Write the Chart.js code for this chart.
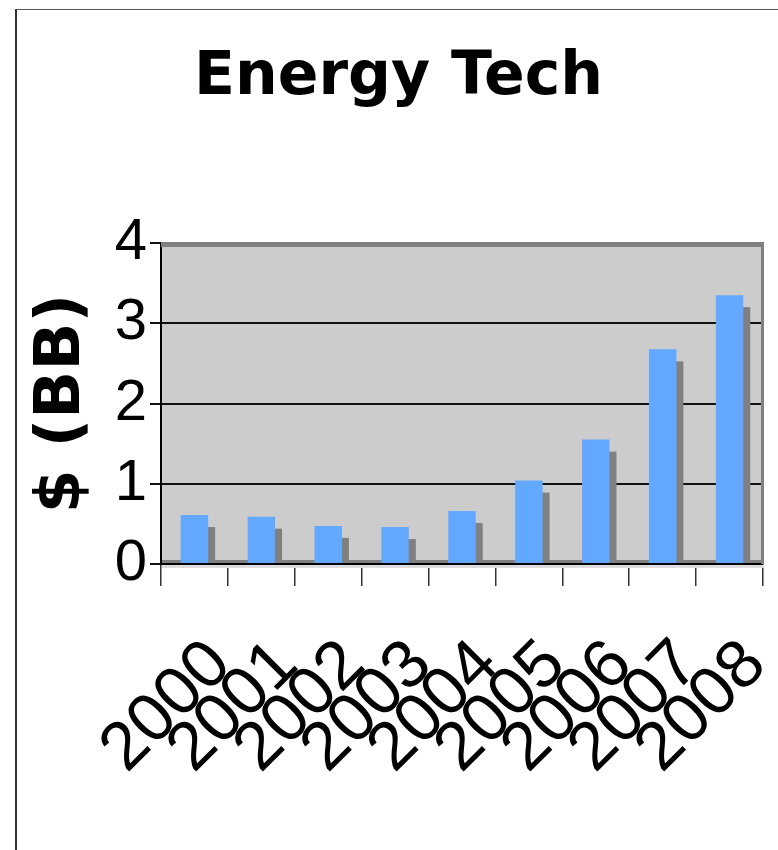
<!DOCTYPE html>
<html>
<head>
<meta charset="utf-8">
<title>Energy Tech</title>
<script src="https://cdn.jsdelivr.net/npm/chart.js@4"></script>
<style>
    html, body { margin: 0; padding: 0; background: #fff; overflow: hidden; }
    #frame {
        position: absolute; left: 15px; top: 9px; width: 900px; height: 900px;
        border-left: 2px solid #333; border-top: 1px solid #555;
    }
    #wrap { position: absolute; left: 0; top: 0; width: 778px; height: 850px; }
</style>
</head>
<body>
<div id="frame"></div>
<div id="wrap"><canvas id="energyChart" width="778" height="850"></canvas></div>
<script>
const years = ['2000', '2001', '2002', '2003', '2004', '2005', '2006', '2007', '2008'];
const investment = [0.61, 0.59, 0.475, 0.46, 0.66, 1.04, 1.55, 2.675, 3.35];
const yMin = 0;
const yMax = 4;
const chartTitle = 'Energy Tech';
const yTitle = '$ (BB)';

// grey back wall plus the 3d-ish walls excel draws around it
const wallPlugin = {
    id: 'wall',
    beforeDraw(chart) {
        const { ctx, chartArea: a } = chart;
        ctx.save();
        ctx.fillStyle = '#cccccc';
        ctx.fillRect(a.left, a.top, a.right - a.left, a.bottom - a.top);
        ctx.restore();
    },
    beforeDatasetsDraw(chart) {
        const { ctx, chartArea: a } = chart;
        ctx.save();
        ctx.fillStyle = '#808080';
        ctx.fillRect(a.left, a.top - 1, a.right - a.left + 1, 5);
        ctx.fillRect(a.right - 2, a.top, 3, a.bottom - a.top);
        ctx.fillRect(a.left + 1, a.bottom - 4, a.right - a.left - 2, 3);
        ctx.fillStyle = '#dddddd';
        ctx.fillRect(a.left + 1, a.bottom + 1, a.right - a.left, 3);

        // dark side of each bar
        const meta = chart.getDatasetMeta(0);
        ctx.fillStyle = '#808080';
        meta.data.forEach(bar => {
            const w = bar.width;
            ctx.fillRect(bar.x - w / 2 + 7, bar.y + 12, w, bar.base - bar.y - 14);
        });
        ctx.restore();
    }
};

const ctx = document.getElementById('energyChart').getContext('2d');
const energyChart = new Chart(ctx, {
    type: 'bar',
    data: {
        labels: years,
        datasets: [{
            label: 'Energy Tech',
            data: investment,
            backgroundColor: '#63a8ff',
            borderWidth: 0,
            categoryPercentage: 1,
            barPercentage: 0.41
        }]
    },
    options: {
        responsive: false,
        animation: false,
        layout: { padding: { left: 34, right: 15, top: 0, bottom: 0 } },
        plugins: {
            legend: { display: false },
            tooltip: { enabled: false },
            title: {
                display: true,
                text: chartTitle,
                color: '#000',
                font: { family: 'DejaVu Sans', size: 60, weight: 'bold', lineHeight: 1.2 },
                padding: { top: 42, bottom: 129 }
            }
        },
        scales: {
            x: {
                grid: {
                    offset: true,
                    drawOnChartArea: false,
                    drawTicks: true,
                    tickLength: 22,
                    tickColor: '#333',
                    lineWidth: 1.5
                },
                border: { display: true, color: '#000', width: 2 },
                ticks: {
                    autoSkip: false,
                    minRotation: 45,
                    maxRotation: 45,
                    labelOffset: 26,
                    padding: 39,
                    color: '#000',
                    font: { family: 'Liberation Sans', size: 68, lineHeight: 1.2 }
                },
                afterFit: scale => {
                    scale.height = 286;
                    scale.paddingLeft = 0;
                    scale.paddingRight = 0;
                }
            },
            y: {
                min: yMin,
                max: yMax,
                grid: {
                    color: c => (c.tick.value === yMin || c.tick.value === yMax) ? 'rgba(0,0,0,0)' : '#111',
                    lineWidth: 2,
                    drawTicks: true,
                    tickLength: 11,
                    tickColor: '#111'
                },
                border: { display: true, color: '#000', width: 2 },
                ticks: {
                    stepSize: 1,
                    padding: 3,
                    color: '#000',
                    font: { family: 'Liberation Sans', size: 58, lineHeight: 1.2 }
                },
                title: {
                    display: true,
                    text: yTitle,
                    color: '#000',
                    font: { family: 'DejaVu Sans', size: 63, weight: 'bold', lineHeight: 0.9 },
                    padding: 0
                },
                afterFit: scale => {
                    scale.width = 127;
                    scale.paddingTop = 0;
                    scale.paddingBottom = 0;
                }
            }
        }
    },
    plugins: [wallPlugin]
});
</script>
</body>
</html>
